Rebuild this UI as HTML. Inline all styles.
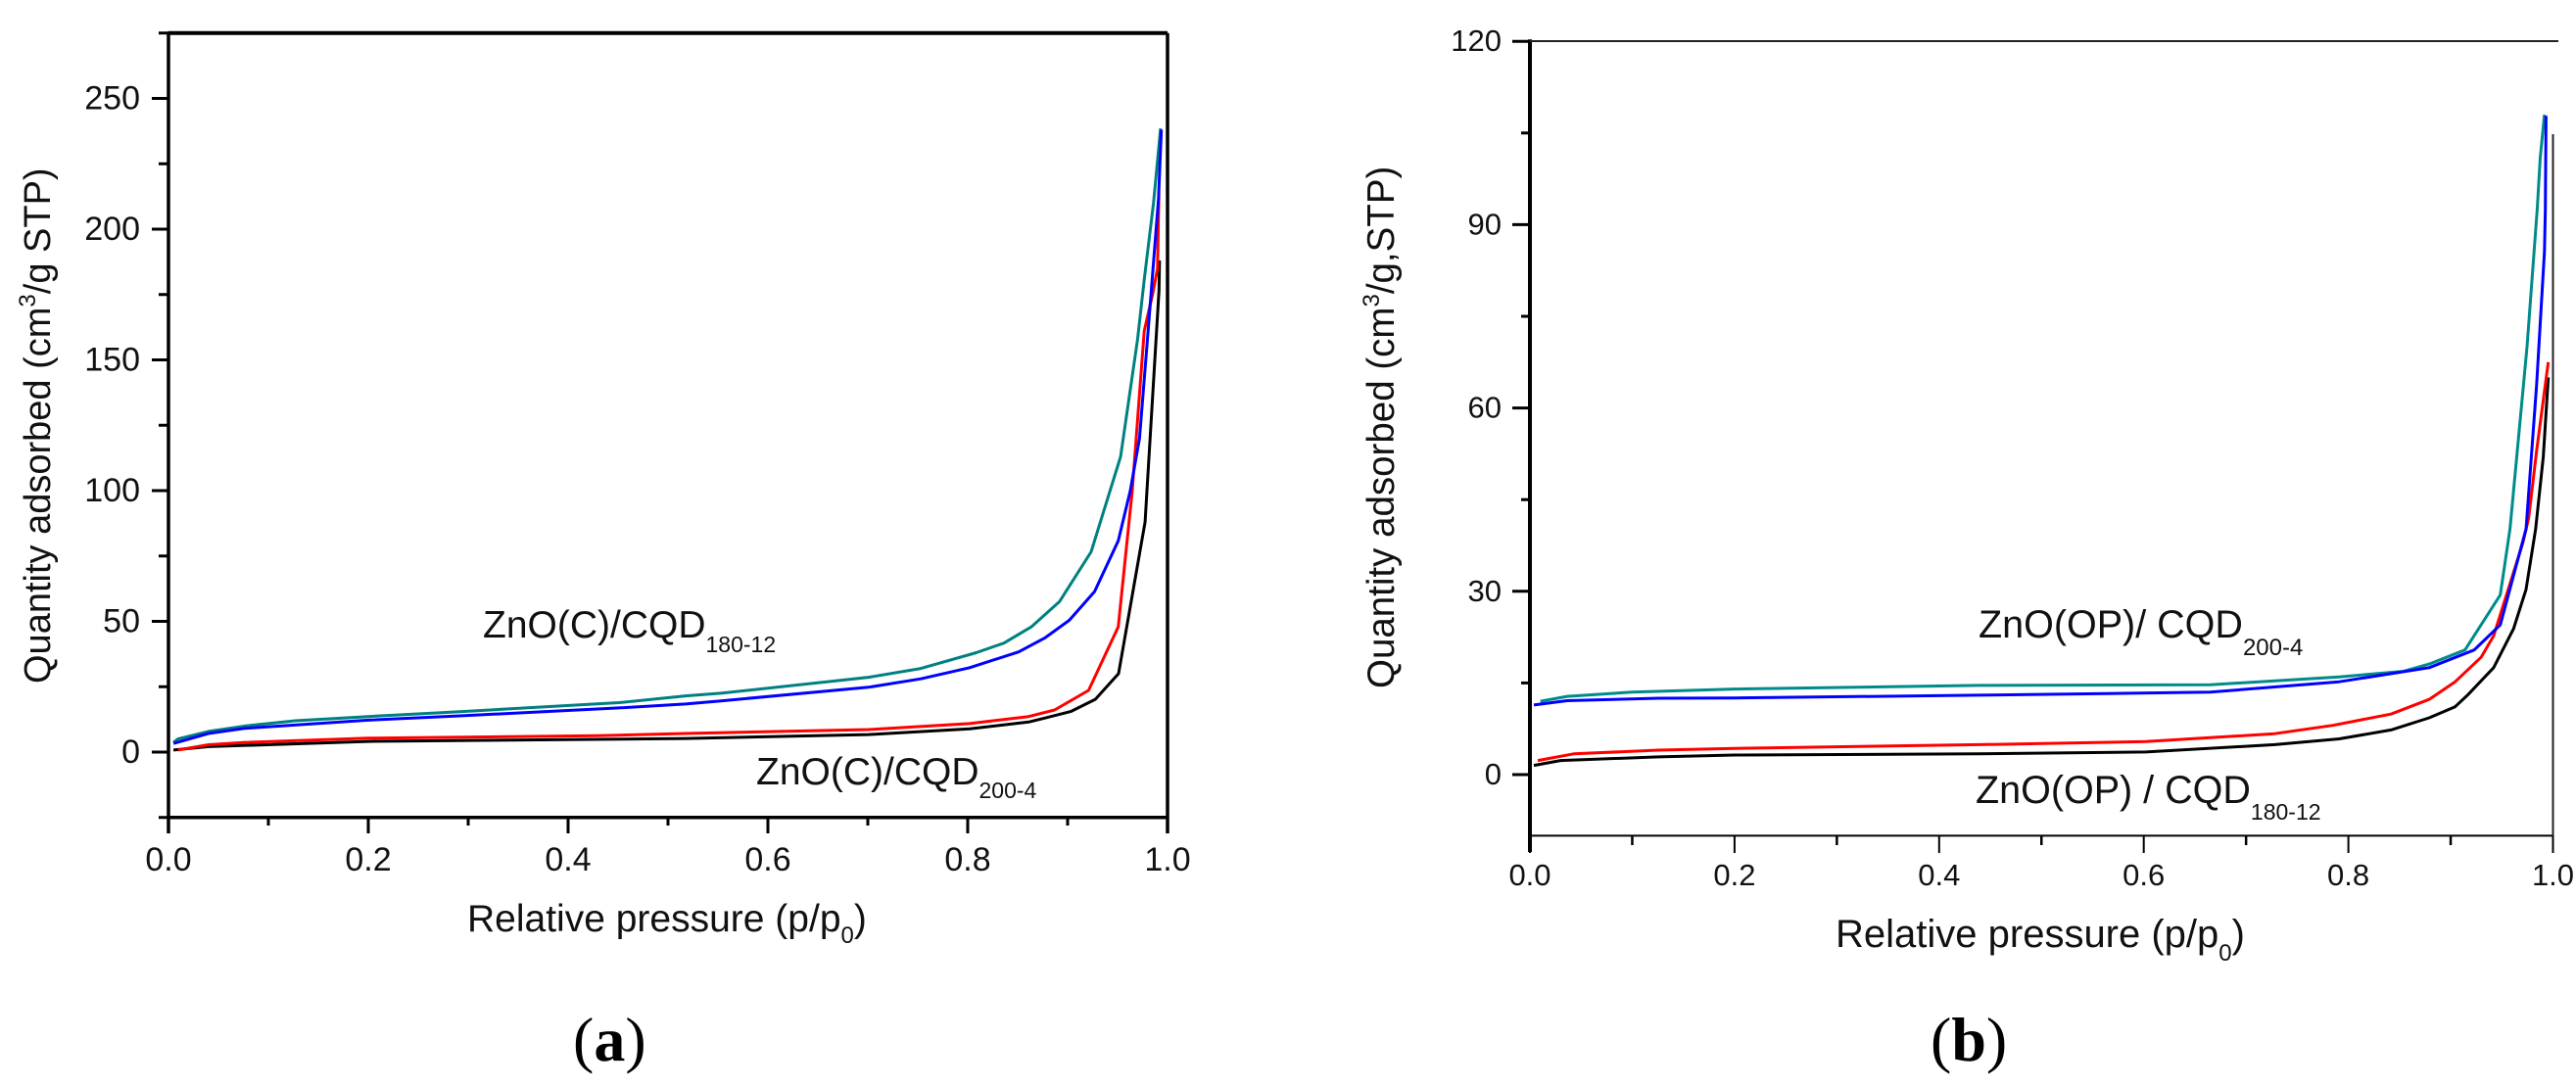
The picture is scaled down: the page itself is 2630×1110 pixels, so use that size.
<!DOCTYPE html>
<html lang="en">
<head>
<meta charset="utf-8">
<title>N2 adsorption isotherms</title>
<style>
html,body{margin:0;padding:0;background:#fff;width:2630px;height:1110px;overflow:hidden}
svg{display:block;position:absolute;left:0;top:0}
text{font-family:"Liberation Sans",sans-serif;fill:#111}
.cap{font-family:"Liberation Serif",serif;fill:#000}
</style>
</head>
<body>
<svg id="figure" width="2630" height="1110" viewBox="0 0 2630 1110" xmlns="http://www.w3.org/2000/svg">
  <rect width="2630" height="1110" fill="#ffffff"/>
  <g id="panel-a"></g>
  <g id="panel-b"></g>

  <text x="477" y="951" font-size="39">Relative pressure (p/p<tspan font-size="24" dy="12">0</tspan><tspan dy="-12">)</tspan></text>
  <text transform="translate(51,698) rotate(-90)" font-size="38">Quantity adsorbed (cm<tspan font-size="24" dy="-15">3</tspan><tspan dy="15">/g STP)</tspan></text>
  <text x="493" y="651" font-size="39">ZnO(C)/CQD<tspan font-size="23" dy="15">180-12</tspan></text>
  <text x="772" y="801" font-size="39">ZnO(C)/CQD<tspan font-size="23" dy="14">200-4</tspan></text>
  <text class="cap" x="585" y="1083" font-size="64">(<tspan font-weight="bold">a</tspan>)</text>

  <text x="1874" y="967" font-size="40">Relative pressure (p/p<tspan font-size="24" dy="14">0</tspan><tspan dy="-14">)</tspan></text>
  <text transform="translate(1423,703) rotate(-90)" font-size="38.5">Quantity adsorbed (cm<tspan font-size="24" dy="-15">3</tspan><tspan dy="15">/g,STP)</tspan></text>
  <text x="2020" y="651" font-size="39.5">ZnO(OP)/ CQD<tspan font-size="24" dy="18">200-4</tspan></text>
  <text x="2017" y="820" font-size="39.5">ZnO(OP) / CQD<tspan font-size="23" dy="17">180-12</tspan></text>
  <text class="cap" x="1971" y="1083" font-size="64">(<tspan font-weight="bold">b</tspan>)</text>
</svg>
<script>
// Panel (a) axis ticks
const aXTickLabels = ["0.0", "0.2", "0.4", "0.6", "0.8", "1.0"];
const aXMajorTicks = [0, 0.2, 0.4, 0.6, 0.8, 1.0];
const aXMinorTicks = [0.1, 0.3, 0.5, 0.7, 0.9];
const aYTickLabels = ["0", "50", "100", "150", "200", "250"];
const aYMajorTicks = [0, 50, 100, 150, 200, 250];
const aYMinorTicks = [-25, 25, 75, 125, 175, 225, 275];

// Panel (a) series, relative pressure and quantity adsorbed
const aTealP = [0.005, 0.0095, 0.04, 0.077, 0.127, 0.2, 0.294, 0.451, 0.5176, 0.553, 0.7007, 0.753, 0.8085, 0.8363, 0.8637, 0.892, 0.9235, 0.953, 0.97, 0.9765, 0.986, 0.993];
const aTealV = [3.7, 5, 7.9, 10, 12, 13.6, 15.5, 18.9, 21.5, 22.5, 28.6, 32, 38, 41.7, 47.9, 57.6, 76.6, 113, 157.8, 180, 210, 238.5];
const aBlueP = [0.005, 0.04, 0.077, 0.2, 0.294, 0.451, 0.5176, 0.553, 0.7007, 0.753, 0.802, 0.851, 0.877, 0.9017, 0.927, 0.9507, 0.9627, 0.972, 0.981, 0.991, 0.9938];
const aBlueV = [3.3, 7.1, 9.1, 12.2, 13.9, 16.9, 18.4, 19.6, 24.8, 28, 32.3, 38.3, 43.6, 50.4, 61.4, 80.8, 100, 120, 163, 211.6, 238];
const aRedP = [0.0095, 0.04, 0.077, 0.2, 0.43, 0.5176, 0.7007, 0.802, 0.861, 0.887, 0.921, 0.9507, 0.9647, 0.9767, 0.985, 0.99, 0.9914];
const aRedV = [0.8, 2.8, 3.7, 5.3, 6.3, 7.1, 8.6, 10.9, 13.6, 16.1, 23.6, 47.9, 100, 161, 175, 185, 214];
const aBlackP = [0.005, 0.04, 0.2, 0.5176, 0.7007, 0.802, 0.861, 0.877, 0.903, 0.9277, 0.951, 0.9775, 0.9794, 0.9915, 0.992];
const aBlackV = [0.8, 2.1, 4.1, 5.2, 6.7, 8.9, 11.5, 13, 15.5, 20.2, 30, 88, 100, 176.5, 188];

// Panel (b) axis ticks
const bXTickLabels = ["0.0", "0.2", "0.4", "0.6", "0.8", "1.0"];
const bXMajorTicks = [0, 0.2, 0.4, 0.6, 0.8, 1.0];
const bXMinorTicks = [0.1, 0.3, 0.5, 0.7, 0.9];
const bYTickLabels = ["0", "30", "60", "90", "120"];
const bYMajorTicks = [0, 30, 60, 90, 120];
const bYMinorTicks = [15, 45, 75, 105];

// Panel (b) series, relative pressure and quantity adsorbed
const bTealP = [0.0102, 0.0364, 0.1, 0.2, 0.439, 0.665, 0.791, 0.854, 0.879, 0.914, 0.9297, 0.9485, 0.958, 0.9746, 0.9846, 0.9876, 0.9917];
const bTealV = [12, 12.8, 13.5, 14, 14.6, 14.7, 16, 16.9, 18.1, 20.4, 24.5, 29.4, 40.2, 70, 92.5, 101, 108];
const bBlueP = [0.0038, 0.0364, 0.1257, 0.2, 0.439, 0.665, 0.791, 0.879, 0.923, 0.9485, 0.9737, 0.984, 0.9917, 0.9925, 0.9932];
const bBlueV = [11.4, 12.1, 12.5, 12.55, 13, 13.5, 15.2, 17.5, 20.4, 24.5, 40.2, 63.8, 85.6, 92.5, 107.8];
const bRedP = [0.0077, 0.0428, 0.1257, 0.2, 0.439, 0.602, 0.728, 0.785, 0.8416, 0.879, 0.9044, 0.9297, 0.942, 0.9705, 0.9763, 0.984, 0.9954];
const bRedV = [2.3, 3.4, 4, 4.3, 4.9, 5.4, 6.7, 8.06, 9.9, 12.3, 15.2, 19.2, 22.7, 37.9, 42, 53, 67.5];
const bBlackP = [0.0038, 0.03, 0.1257, 0.2, 0.439, 0.602, 0.728, 0.791, 0.8416, 0.879, 0.9044, 0.917, 0.942, 0.9615, 0.9737, 0.9831, 0.9905, 0.9954];
const bBlackV = [1.5, 2.3, 2.9, 3.2, 3.4, 3.7, 4.9, 5.85, 7.3, 9.3, 11.1, 13.1, 17.5, 23.9, 30.3, 40.2, 52, 65];

const NS = "http://www.w3.org/2000/svg";

// Axis functions
function xA(p) { return 172 + 1020 * p; }
function yA(v) { return 768 - 2.67 * v; }
function xB(p) { return 1562 + 1044.5 * p; }
function yB(v) { return 791 - 6.24 * v; }

function drawLine(parent, name, x1, y1, x2, y2, width, color) {
  const el = document.createElementNS(NS, "line");
  
  
  el.setAttribute("x1", x1);
  el.setAttribute("y1", y1);
  el.setAttribute("x2", x2);
  el.setAttribute("y2", y2);
  el.setAttribute("stroke", color || "#000");
  el.setAttribute("stroke-width", width);
  parent.appendChild(el);
}

function drawText(parent, name, x, y, size, anchor, content) {
  const el = document.createElementNS(NS, "text");
  
  
  el.setAttribute("x", x);
  el.setAttribute("y", y);
  el.setAttribute("font-size", size);
  el.setAttribute("text-anchor", anchor);
  el.textContent = content;
  parent.appendChild(el);
}

function drawSeries(parent, name, ps, vs, xf, yf, color, width) {
  const el = document.createElementNS(NS, "polyline");
  
  
  el.setAttribute("points", ps.map(function (p, i) { return xf(p).toFixed(1) + "," + yf(vs[i]).toFixed(1); }).join(" "));
  el.setAttribute("fill", "none");
  el.setAttribute("stroke", color);
  el.setAttribute("stroke-width", width);
  el.setAttribute("stroke-linejoin", "round");
  parent.appendChild(el);
}

const panelA = document.getElementById("panel-a");
const panelB = document.getElementById("panel-b");

// Panel (a) series
drawSeries(panelA, "panel-a-series-black", aBlackP, aBlackV, xA, yA, "#000000", 3);
drawSeries(panelA, "panel-a-series-red", aRedP, aRedV, xA, yA, "#ff0000", 3);
drawSeries(panelA, "panel-a-series-teal", aTealP, aTealV, xA, yA, "#008080", 3);
drawSeries(panelA, "panel-a-series-blue", aBlueP, aBlueV, xA, yA, "#0000ff", 3);

// Panel (a) frame
drawLine(panelA, "panel-a-y-axis", xA(0), yA(275) - 1.5, xA(0), 851, 3.5);
drawLine(panelA, "panel-a-x-axis", xA(0), yA(-25), xA(1), yA(-25), 3.5);
drawLine(panelA, "panel-a-top-border", xA(0), yA(275), xA(1), yA(275), 4);
drawLine(panelA, "panel-a-right-border", xA(1), yA(275), xA(1), 851, 3.5);

// Panel (a) ticks
aYMajorTicks.forEach(function (v, i) {
  drawLine(panelA, "panel-a-y-major-tick", 155, yA(v), xA(0), yA(v), 3);
  drawText(panelA, "panel-a-y-tick-label", 143, yA(v) + 11, 34, "end", aYTickLabels[i]);
});
aYMinorTicks.forEach(function (v) {
  drawLine(panelA, "panel-a-y-minor-tick", 162, yA(v), xA(0), yA(v), 3);
});
aXMajorTicks.forEach(function (p, i) {
  drawLine(panelA, "panel-a-x-major-tick", xA(p), yA(-25), xA(p), 851, 3);
  drawText(panelA, "panel-a-x-tick-label", xA(p), 889, 34, "middle", aXTickLabels[i]);
});
aXMinorTicks.forEach(function (p) {
  drawLine(panelA, "panel-a-x-minor-tick", xA(p), yA(-25), xA(p), 843, 3);
});

// Panel (b) series
drawSeries(panelB, "panel-b-series-black", bBlackP, bBlackV, xB, yB, "#000000", 3);
drawSeries(panelB, "panel-b-series-red", bRedP, bRedV, xB, yB, "#ff0000", 3);
drawSeries(panelB, "panel-b-series-teal", bTealP, bTealV, xB, yB, "#008b8b", 3);
drawSeries(panelB, "panel-b-series-blue", bBlueP, bBlueV, xB, yB, "#0000ff", 3);

// Panel (b) frame
drawLine(panelB, "panel-b-y-axis", xB(0), yB(120) - 2, xB(0), 870, 4);
drawLine(panelB, "panel-b-x-axis", xB(0), yB(-10), xB(1), yB(-10), 2);
drawLine(panelB, "panel-b-top-border", xB(0), 42, 2612, 42, 2, "#222");
drawLine(panelB, "panel-b-right-border", xB(1), 137, xB(1), 871, 2, "#222");

// Panel (b) ticks
bYMajorTicks.forEach(function (v, i) {
  drawLine(panelB, "panel-b-y-major-tick", 1544, yB(v), xB(0), yB(v), 3);
  drawText(panelB, "panel-b-y-tick-label", 1533, yB(v) + 10, 31, "end", bYTickLabels[i]);
});
bYMinorTicks.forEach(function (v) {
  drawLine(panelB, "panel-b-y-minor-tick", 1553, yB(v), xB(0), yB(v), 3);
});
bXMajorTicks.forEach(function (p, i) {
  drawLine(panelB, "panel-b-x-major-tick", xB(p), yB(-10), xB(p), 871, 2);
  drawText(panelB, "panel-b-x-tick-label", xB(p), 904, 31, "middle", bXTickLabels[i]);
});
bXMinorTicks.forEach(function (p) {
  drawLine(panelB, "panel-b-x-minor-tick", xB(p), yB(-10), xB(p), 863, 2.5);
});
</script>
</body>
</html>
